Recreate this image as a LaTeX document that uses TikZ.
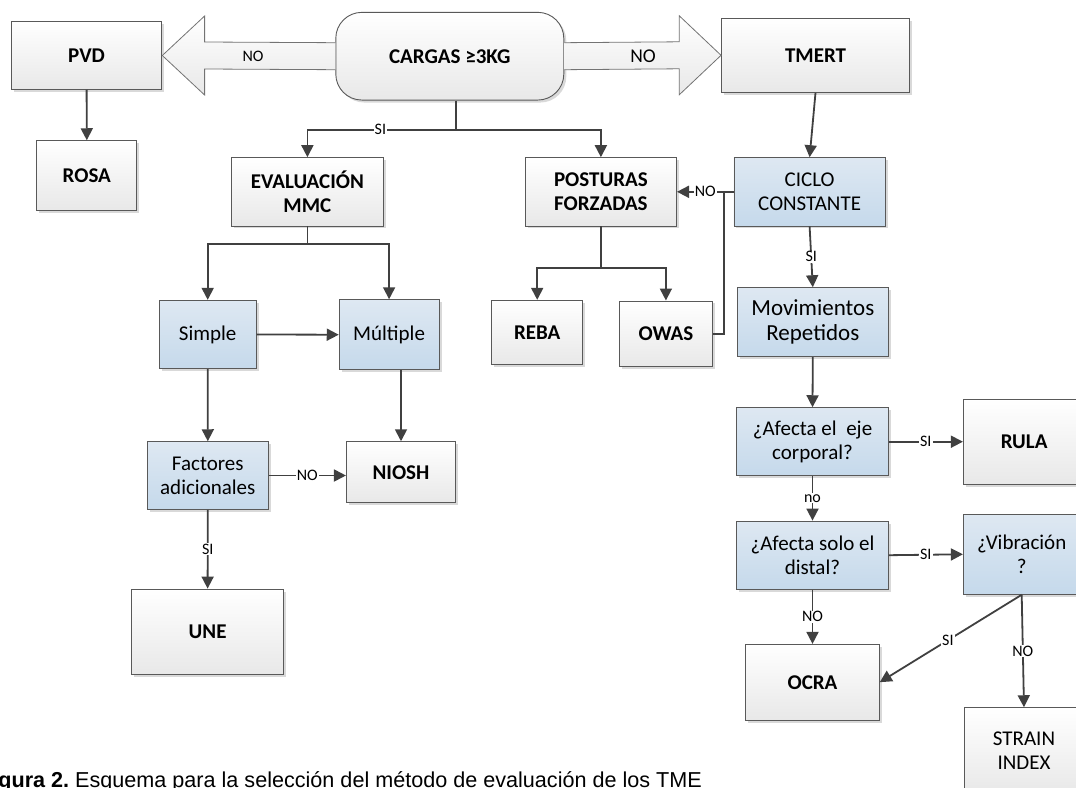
\documentclass[tikz,border=0pt]{standalone}
\usepackage{fontspec}
\setmainfont{Carlito}
\newfontfamily\capfont{Liberation Sans}
\usetikzlibrary{arrows.meta,calc,shadows}
\definecolor{bdr}{RGB}{89,89,89}
\definecolor{boxgray}{RGB}{232,232,232}
\definecolor{blueT}{RGB}{222,232,242}
\definecolor{blueB}{RGB}{197,217,235}
\definecolor{lineC}{RGB}{64,64,64}
\definecolor{bigbdr}{RGB}{115,115,115}
\begin{document}
\begin{tikzpicture}[x=1pt,y=-1pt,
  box/.style={draw=bdr, line width=0.9pt, inner sep=0pt, align=center,
    drop shadow={shadow xshift=2.5pt, shadow yshift=-2.5pt, fill=black, opacity=0.15}},
  graybox/.style={box, top color=white, bottom color=boxgray, font=\fontsize{21}{24}\selectfont\bfseries},
  bluebox/.style={box, top color=blueT, bottom color=blueB, font=\fontsize{21}{24}\selectfont},
  conn/.style={draw=lineC, line width=1.8pt},
  arr/.style={conn, -{Triangle[length=12pt,width=12pt]}},
  lbl/.style={fill=white, inner sep=1pt, text=black, font=\fontsize{16}{16}\selectfont},
  blockarr/.style={draw=bigbdr, line width=0.8pt, top color=white, bottom color=boxgray},
  wh/.style 2 args={minimum width=#1pt, minimum height=#2pt}
]
\useasboundingbox (0,0) rectangle (1076,787);
\clip (0,0) rectangle (1076,787);

% nodes
\node[graybox, wh={150.5}{67.6}] (pvd) at (86.6,55.5) {PVD};
\node[graybox, wh={228}{87.7}, rounded corners=26pt] (cargas) at (449.8,56.2) {CARGAS ≥3KG};
\node[graybox, wh={188}{74}] (tmert) at (815.5,55.3) {TMERT};
\node[graybox, wh={99.9}{70}] (rosa) at (86.8,175.7) {ROSA};
\node[graybox, wh={151.9}{68.3}] (eval) at (307.4,191.8) {EVALUACIÓN\\MMC};
\node[graybox, wh={151.3}{68.3}] (post) at (600.9,191.8) {POSTURAS\\FORZADAS};
\node[bluebox, wh={151.3}{68.3}] (ciclo) at (809.6,191.8) {CICLO\\CONSTANTE};
\node[bluebox, wh={97.1}{68.4}] (simple) at (207.7,334.5) {Simple};
\node[bluebox, wh={99.8}{70}] (mult) at (389.1,334.7) {Múltiple};
\node[graybox, wh={90.8}{64}] (reba) at (537.2,332.3) {REBA};
\node[graybox, wh={93.5}{65.7}] (owas) at (665.9,333.8) {OWAS};
\node[bluebox, wh={151.6}{69}, font=\fontsize{23}{25}\selectfont] (mov) at (812.8,322.2) {Movimientos\\Repetidos};
\node[bluebox, wh={120.9}{67.6}] (fact) at (207.8,475.5) {Factores\\adicionales};
\node[graybox, wh={109.2}{61}] (niosh) at (401,472.2) {NIOSH};
\node[graybox, wh={151.5}{85.3}] (une) at (207.6,631.7) {UNE};
\node[bluebox, wh={151.6}{68}] (eje) at (812.5,441.7) {¿Afecta el\ \ eje\\corporal?};
\node[graybox, wh={121.7}{85.3}] (rula) at (1024.2,441.7) {RULA};
\node[bluebox, wh={151.6}{68.3}] (dist) at (812.5,555.2) {¿Afecta solo el\\distal?};
\node[bluebox, wh={116.7}{80}] (vib) at (1021.7,554.3) {¿Vibración\\?};
\node[graybox, wh={133.6}{75.7}] (ocra) at (812.5,682.2) {OCRA};
\node[graybox, wh={119.7}{86.6}, font=\fontsize{21}{24}\selectfont] (strain) at (1024,751) {STRAIN\\INDEX};

% block arrows
\draw[blockarr] ($(cargas.west)+(0,-13.5)$) -- ($(pvd.east)+(42.3,-13.5)$) -- ($(pvd.east)+(42.3,-39.5)$)
  -- (pvd.east) -- ($(pvd.east)+(42.3,39.5)$) -- ($(pvd.east)+(42.3,13.5)$) -- ($(cargas.west)+(0,13.5)$);
\draw[blockarr] ($(cargas.east)+(0,-13.5)$) -- ($(tmert.west)+(-41.8,-13.5)$) -- ($(tmert.west)+(-41.8,-39.5)$)
  -- (tmert.west) -- ($(tmert.west)+(-41.8,39.5)$) -- ($(tmert.west)+(-41.8,13.5)$) -- ($(cargas.east)+(0,13.5)$);
\node[font=\fontsize{16}{16}\selectfont, inner sep=0pt] (noL) at ($(cargas.west)!0.476!(pvd.east)$) {NO};
\node[font=\fontsize{19.5}{19.5}\selectfont, inner sep=0pt] (noR) at ($(cargas.east)!0.503!(tmert.west)$) {NO};

% connectors
\draw[conn] ([xshift=6.5pt]cargas.south) -- ++(0,29.3) coordinate (s1);
\draw[arr] (s1) -| node[lbl, pos=0.255]{SI} (eval.north);
\draw[arr] (s1) -| (post.north);
\draw[arr] (pvd.south) -- (rosa.north);
\draw[arr] (tmert.south) -- (ciclo.north);
\draw[conn] (eval.south) -- ++(0,17.3) coordinate (s2);
\draw[arr] (s2) -| (simple.north);
\draw[arr] (s2) -| (mult.north);
\draw[arr] (simple.east) -- (mult.west);
\draw[arr] (simple.south) -- (fact.north);
\draw[arr] (mult.south -| niosh.north) -- (niosh.north);
\draw[arr] (fact.east) -- node[lbl]{NO} (fact.east -| niosh.west);
\draw[arr] (fact.south) -- node[lbl]{SI} (une.north);
\draw[conn] (post.south) -- ++(0,41.7) coordinate (s3);
\draw[arr] (s3) -| (reba.north);
\draw[arr] (s3) -| (owas.north);
\draw[conn] (owas.east) -- ++(11,0) |- ([xshift=-10.3pt]ciclo.west);
\draw[arr] (ciclo.west) -- node[lbl]{NO} (post.east);
\draw[arr] (ciclo.south) -- node[lbl]{SI} (mov.north);
\draw[arr] (mov.south) -- (eje.north);
\draw[arr] (eje.east) -- node[lbl]{SI} (rula.west);
\draw[arr] (eje.south) -- node[lbl]{no} (dist.north);
\draw[arr] (dist.east) -- node[lbl]{SI} (vib.west);
\draw[arr] (dist.south) -- node[lbl]{NO} (ocra.north);
\draw[arr] (vib.south) -- node[lbl, pos=0.52]{SI} (ocra.east);
\draw[arr] (vib.south) -- node[lbl]{NO} (strain.north);

% caption
\node[anchor=base west, inner sep=0pt, font=\capfont\fontsize{21.6}{22}\selectfont] (cap) at (75,787.3)
  {\llap{\bfseries Figura 2.\ }Esquema para la selección del método de evaluación de los TME};
\end{tikzpicture}
\end{document}
